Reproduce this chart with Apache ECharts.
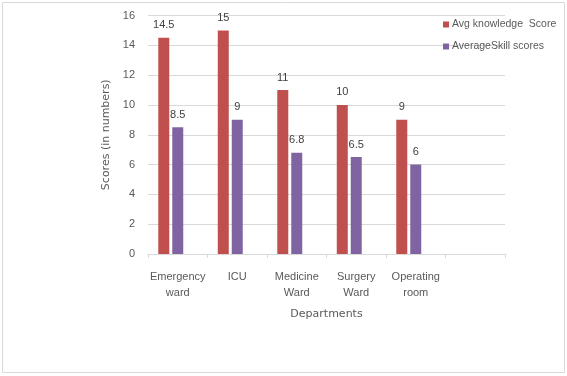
<!DOCTYPE html>
<html lang="en">
<head>
    <meta charset="UTF-8" />
    <title>Scores by department</title>
    <script src="https://cdn.jsdelivr.net/npm/echarts@6.0.0/dist/echarts.min.js"></script>
    <style>
        html, body { margin: 0; padding: 0; background: #fff; }
        #main { width: 567px; height: 376px; }
    </style>
</head>
<body>
    <div id="main"></div>
    <script>
        // data
        var departments = ["Emergency\nward", "ICU", "Medicine\nWard", "Surgery\nWard", "Operating\nroom", ""];
        var knowledgeScores = [14.5, 15, 11, 10, 9, null];
        var skillScores = [8.5, 9, 6.8, 6.5, 6, null];
        // third, empty series in the original sheet (keeps bars left of centre)
        var emptySeries = [null, null, null, null, null, null];
        var yTicks = { min: 0, max: 16, interval: 2 };

        var textColor = "#595959";
        var gridColor = "#d9d9d9";
        var font = "Liberation Sans";
        var nameFont = "DejaVu Sans";

        var chart = echarts.init(document.getElementById("main"));

        var labelOpt = {
            show: true,
            position: "top",
            distance: 7,
            color: "#404040",
            fontFamily: font,
            fontSize: 11
        };

        var option = {
            animation: false,
            textStyle: { fontFamily: font },
            graphic: [{
                type: "rect",
                shape: { x: 2.5, y: 2.5, width: 562, height: 370 },
                style: { fill: null, stroke: gridColor, lineWidth: 1 },
                silent: true
            }],
            legend: {
                orient: "vertical",
                left: 438,
                top: 14,
                itemWidth: 6,
                itemHeight: 6,
                itemGap: 11,
                icon: "rect",
                data: ["Avg knowledge  Score", "AverageSkill scores"],
                textStyle: { color: textColor, fontSize: 10.5, fontFamily: font, padding: [0, 0, 0, -2] }
            },
            grid: { left: 148, right: 62, top: 15.5, bottom: 122 },
            xAxis: {
                type: "category",
                data: departments,
                name: "Departments",
                nameLocation: "middle",
                nameGap: 55,
                nameTextStyle: { color: textColor, fontSize: 11, fontFamily: nameFont },
                axisLine: { lineStyle: { color: gridColor } },
                axisTick: { show: true, length: 4, lineStyle: { color: gridColor } },
                axisLabel: { color: textColor, fontSize: 11, fontFamily: font, margin: 15, lineHeight: 16, interval: 0 }
            },
            yAxis: {
                type: "value",
                min: yTicks.min,
                max: yTicks.max,
                interval: yTicks.interval,
                name: "Scores (in numbers)",
                nameLocation: "middle",
                nameGap: 26,
                nameTextStyle: { color: textColor, fontSize: 11, fontFamily: nameFont },
                axisLine: { show: false },
                axisTick: { show: false },
                axisLabel: { color: textColor, fontSize: 11, fontFamily: font, margin: 13 },
                splitLine: { lineStyle: { color: gridColor } }
            },
            series: [
                {
                    name: "Avg knowledge  Score",
                    type: "bar",
                    data: knowledgeScores,
                    barWidth: 11,
                    barGap: "27%",
                    itemStyle: { color: "#c0504d" },
                    label: labelOpt
                },
                {
                    name: "AverageSkill scores",
                    type: "bar",
                    data: skillScores,
                    barWidth: 11,
                    barGap: "27%",
                    itemStyle: { color: "#8064a2" },
                    label: labelOpt
                },
                {
                    name: "Series3",
                    type: "bar",
                    data: emptySeries,
                    barWidth: 11,
                    barGap: "27%",
                    itemStyle: { color: "#9bbb59" }
                }
            ]
        };

        chart.setOption(option);
    </script>
</body>
</html>
